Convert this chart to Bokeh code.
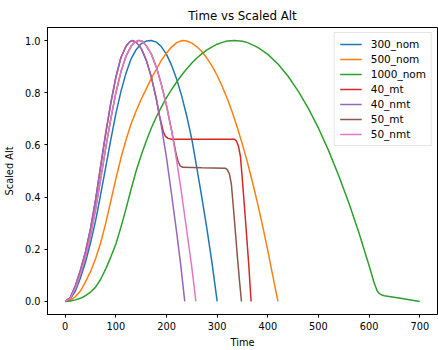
from bokeh.plotting import figure
from bokeh.models import Range1d, FixedTicker, Legend, LegendItem
from bokeh.embed import file_html
from bokeh.resources import INLINE

# ---------------- data ----------------
series_names = ["300_nom", "500_nom", "1000_nom", "40_mt", "40_nmt", "50_mt", "50_nmt"]
series_colors = ["#1f77b4", "#ff7f0e", "#2ca02c", "#d62728", "#9467bd", "#8c564b", "#e377c2"]

t_300_nom = [0, 10, 20, 30, 40, 50, 60, 70, 80, 90, 100, 110, 120, 130, 140, 150, 160, 170,
             180, 190, 200, 210, 220, 230, 240, 250, 260, 270, 280, 290, 300]
v_300_nom = [0, 0.01, 0.04, 0.09, 0.15, 0.225, 0.31, 0.41, 0.515, 0.62, 0.72, 0.805, 0.875, 0.93,
             0.965, 0.988, 0.998, 1.0, 0.994, 0.976, 0.947, 0.905, 0.852, 0.787, 0.71, 0.621,
             0.51, 0.395, 0.275, 0.145, 0.0]

t_500_nom = [0, 10, 20, 30, 40, 50, 60, 70, 80, 90, 100, 110, 120, 130, 140, 150, 160, 170,
             180, 190, 200, 210, 220, 231, 240, 250, 260, 270, 280, 290, 300, 310, 320, 330,
             340, 350, 360, 370, 380, 390, 400, 410, 420]
v_500_nom = [0, 0.004, 0.018, 0.04, 0.075, 0.115, 0.165, 0.225, 0.3, 0.385, 0.47, 0.55, 0.62,
             0.68, 0.73, 0.775, 0.815, 0.855, 0.89, 0.925, 0.952, 0.975, 0.992, 1.0, 0.998,
             0.99, 0.976, 0.957, 0.932, 0.902, 0.866, 0.824, 0.777, 0.724, 0.665, 0.601,
             0.531, 0.455, 0.374, 0.287, 0.195, 0.096, 0.0]

t_1000_nom = [0, 10, 20, 30, 40, 50, 60, 70, 80, 90, 100, 110, 120, 130, 140, 150, 160, 170,
              180, 190, 200, 210, 220, 230, 240, 250, 260, 270, 280, 290, 300, 310, 320, 334,
              350, 360, 380, 400, 420, 440, 460, 480, 500, 520, 540, 560, 580, 600, 610, 616,
              620, 625, 630, 665, 700]
v_1000_nom = [0, 0.002, 0.006, 0.012, 0.022, 0.036, 0.055, 0.085, 0.125, 0.17, 0.22, 0.285,
              0.355, 0.43, 0.5, 0.56, 0.615, 0.665, 0.708, 0.746, 0.781, 0.812, 0.841, 0.868,
              0.892, 0.914, 0.933, 0.95, 0.964, 0.976, 0.986, 0.993, 0.998, 1.0, 0.997, 0.992,
              0.974, 0.947, 0.91, 0.863, 0.806, 0.74, 0.664, 0.578, 0.482, 0.377, 0.262, 0.137,
              0.071, 0.04, 0.03, 0.025, 0.022, 0.011, 0.0]

t_40_mt = [0, 10, 20, 30, 40, 50, 60, 70, 80, 90, 100, 110, 120, 127, 132, 140, 150, 160, 170,
           180, 186, 190, 194, 198, 203, 210, 250, 300, 334, 338, 342, 346, 350, 354, 358, 362, 367]
v_40_mt = [0, 0.015, 0.06, 0.12, 0.19, 0.28, 0.39, 0.52, 0.645, 0.76, 0.86, 0.935, 0.978, 0.995,
           1.0, 0.994, 0.97, 0.925, 0.86, 0.775, 0.712, 0.68, 0.648, 0.633, 0.625, 0.622, 0.622,
           0.622, 0.622, 0.615, 0.595, 0.555, 0.46, 0.36, 0.255, 0.15, 0.0]

t_40_nmt = [0, 10, 20, 30, 40, 50, 60, 70, 80, 90, 100, 110, 120, 127, 132, 140, 150, 160, 170,
            180, 190, 200, 210, 220, 228, 236]
v_40_nmt = [0, 0.015, 0.06, 0.12, 0.19, 0.28, 0.39, 0.52, 0.645, 0.76, 0.86, 0.935, 0.978, 0.995,
            1.0, 0.994, 0.97, 0.925, 0.86, 0.775, 0.67, 0.55, 0.41, 0.265, 0.14, 0.0]

t_50_mt = [0, 10, 20, 30, 40, 50, 60, 70, 80, 90, 100, 110, 120, 130, 138, 145, 152, 160, 170,
           180, 190, 200, 210, 215, 219, 223, 227, 232, 270, 316, 320, 324, 328, 332, 336, 340,
           344, 348]
v_50_mt = [0, 0.012, 0.05, 0.105, 0.17, 0.255, 0.355, 0.47, 0.59, 0.7, 0.8, 0.88, 0.94, 0.978,
           0.995, 1.0, 0.997, 0.98, 0.948, 0.898, 0.83, 0.75, 0.655, 0.605, 0.565, 0.535, 0.52,
           0.514, 0.512, 0.511, 0.505, 0.49, 0.45, 0.36, 0.265, 0.17, 0.08, 0.0]

t_50_nmt = [0, 10, 20, 30, 40, 50, 60, 70, 80, 90, 100, 110, 120, 130, 138, 145, 152, 160, 170,
            180, 190, 200, 210, 220, 230, 240, 250, 258]
v_50_nmt = [0, 0.012, 0.05, 0.105, 0.17, 0.255, 0.355, 0.47, 0.59, 0.7, 0.8, 0.88, 0.94, 0.978,
            0.995, 1.0, 0.997, 0.98, 0.948, 0.898, 0.83, 0.75, 0.655, 0.54, 0.41, 0.27, 0.13, 0.0]

x_ticks = [0, 100, 200, 300, 400, 500, 600, 700]
y_ticks = [0.0, 0.2, 0.4, 0.6, 0.8, 1.0]
y_tick_labels = ["0.0", "0.2", "0.4", "0.6", "0.8", "1.0"]

series_t = [t_300_nom, t_500_nom, t_1000_nom, t_40_mt, t_40_nmt, t_50_mt, t_50_nmt]
series_v = [v_300_nom, v_500_nom, v_1000_nom, v_40_mt, v_40_nmt, v_50_mt, v_50_nmt]

# ---------------- figure ----------------
FONT = "DejaVu Sans"
p = figure(width=438, height=350, output_backend="svg", toolbar_location=None,
           x_range=Range1d(-35, 735), y_range=Range1d(-0.05, 1.05),
           title="Time vs Scaled Alt")
p.min_border_left = 47
p.min_border_right = 1
p.min_border_top = 27
p.min_border_bottom = 35
p.background_fill_color = "white"
p.border_fill_color = "white"
p.outline_line_color = "black"
p.outline_line_width = 1
p.outline_line_alpha = 1
p.xgrid.visible = False
p.ygrid.visible = False

p.title.align = "center"
p.title.text_font = FONT
p.title.text_font_size = "11.8px"
p.title.text_font_style = "normal"
p.title.text_color = "black"

p.xaxis.ticker = FixedTicker(ticks=x_ticks)
p.yaxis.ticker = FixedTicker(ticks=y_ticks)
p.yaxis.major_label_overrides = {tv: lab for tv, lab in zip(y_ticks, y_tick_labels)}
p.xaxis.axis_label = "Time"
p.yaxis.axis_label = "Scaled Alt"
for ax in (p.xaxis, p.yaxis):
    ax.minor_tick_line_color = None
    ax.major_tick_in = 0
    ax.major_tick_out = 3
    ax.major_tick_line_color = "black"
    ax.axis_line_color = "black"
    ax.major_label_text_font = FONT
    ax.major_label_text_font_size = "9.8px"
    ax.major_label_text_color = "black"
    ax.major_label_standoff = 4
    ax.axis_label_text_font = FONT
    ax.axis_label_text_font_size = "9.8px"
    ax.axis_label_text_font_style = "normal"
    ax.axis_label_text_color = "black"
    ax.axis_label_standoff = 4
p.yaxis.axis_label_standoff = 7

items = []
for name, col, tt, vv in zip(series_names, series_colors, series_t, series_v):
    r = p.line(tt, vv, line_color=col, line_width=1.5)
    items.append(LegendItem(label=name, renderers=[r]))

legend = Legend(items=items, location="top_right")
legend.margin = 5
legend.padding = 5
legend.spacing = 3
legend.label_height = 12
legend.glyph_height = 12
legend.glyph_width = 22
legend.label_standoff = 9
legend.label_text_font = FONT
legend.label_text_font_size = "10.5px"
legend.label_text_color = "black"
legend.border_line_color = "#cccccc"
legend.border_line_width = 1
legend.background_fill_alpha = 0.8
p.add_layout(legend, "center")

open("out.html", "w").write(file_html(p, INLINE))
